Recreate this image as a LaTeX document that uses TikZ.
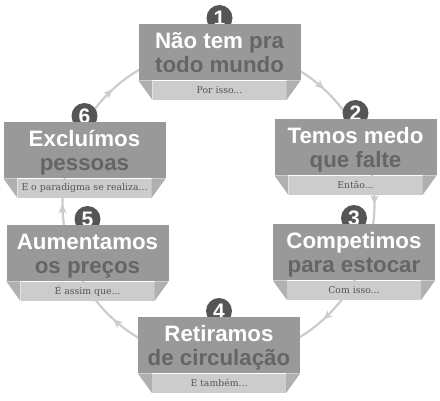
\documentclass[tikz,border=0pt]{standalone}
\usepackage{fontspec}
\setmainfont{Liberation Sans}
\newfontfamily\headfont{Liberation Sans}
\newfontfamily\stripfont{DejaVu Serif}
\usetikzlibrary{arrows.meta,decorations.markings,calc}
\definecolor{boxgray}{HTML}{999999}
\definecolor{darktxt}{HTML}{656565}
\definecolor{stripgray}{HTML}{CCCCCC}
\definecolor{flapgray}{HTML}{B0B0B0}
\definecolor{numgray}{HTML}{555555}
\definecolor{arcgray}{HTML}{CCCCCC}
\definecolor{striptxt}{HTML}{555555}
\newcommand\mybox[6]{%
  \node[numcirc] (n#1) at (#2,#3-6) {#1};
  \node[mainbox] (b#1) at (#2,#3) {};
  \node[stripbox] (s#1) at (b#1.south) {#6};
  \fill[flap] (b#1.south west) -- (s#1.north west) -- (s#1.south west) -- cycle;
  \fill[flap] (b#1.south east) -- (s#1.north east) -- (s#1.south east) -- cycle;
  \node[headline] (h#1) at ($(b#1.north)+(0,24)$) {#4};
  \node[subline] (t#1) at ($(b#1.north)+(0,48)$) {#5};
}
\begin{document}
\begin{tikzpicture}[x=1pt,y=-1pt,
  mainbox/.style={fill=boxgray, minimum width=162pt, minimum height=56pt, inner sep=0pt, anchor=north},
  stripbox/.style={fill=stripgray, minimum width=134pt, minimum height=19pt, inner sep=0pt, anchor=north, font=\stripfont\fontsize{9.3}{11}\selectfont, text=striptxt},
  flap/.style={fill=flapgray},
  headline/.style={anchor=base, inner sep=0pt, font=\headfont\bfseries\fontsize{22.3}{26}\selectfont, text=white},
  subline/.style={headline, text=darktxt},
  numcirc/.style={circle, fill=numgray, minimum size=26pt, inner sep=0pt, text=white, font=\headfont\bfseries\fontsize{21}{22}\selectfont},
  flow/.style={color=arcgray, line width=2.2pt},
  flowmark/.style={postaction={decorate}, decoration={markings, mark=at position #1 with {\arrow{Stealth[length=9pt,width=8pt,inset=2.5pt]}}}}
]
\useasboundingbox (0,0) rectangle (440,400);
\coordinate (O) at (218.5,204);
\coordinate (p1) at ($(O)+(-90:156)$);
\coordinate (p2) at ($(O)+(-22.6:156)$);
\coordinate (p3) at ($(O)+(19.5:156)$);
\coordinate (p4) at ($(O)+(90:156)$);
\coordinate (p5) at ($(O)+(159.5:156)$);
\coordinate (p6) at ($(O)+(202:156)$);
\draw[flow, flowmark=0.63] (p1) arc[start angle=-90, end angle=-22.6, radius=156];
\draw[flow, flowmark=0.54] (p2) arc[start angle=-22.6, end angle=19.5, radius=156];
\draw[flow, flowmark=0.40] (p3) arc[start angle=19.5, end angle=90, radius=156];
\draw[flow, flowmark=0.61] (p4) arc[start angle=90, end angle=159.5, radius=156];
\draw[flow, flowmark=0.48] (p5) arc[start angle=159.5, end angle=202, radius=156];
\draw[flow, flowmark=0.37] (p6) arc[start angle=202, end angle=270, radius=156];
\mybox{1}{219.5}{24}{Não tem \textcolor{darktxt}{pra}}{todo mundo}{Por isso...}
\mybox{2}{355.5}{119}{Temos medo}{que falte}{Então...}
\mybox{3}{354}{224}{Competimos}{para estocar}{Com isso...}
\mybox{4}{219}{317}{Retiramos}{de circulação}{E também...}
\mybox{5}{87.5}{225}{Aumentamos}{os preços}{É assim que...}
\mybox{6}{84.5}{122}{Excluímos}{pessoas}{E o paradigma se realiza...}
\end{tikzpicture}
\end{document}
